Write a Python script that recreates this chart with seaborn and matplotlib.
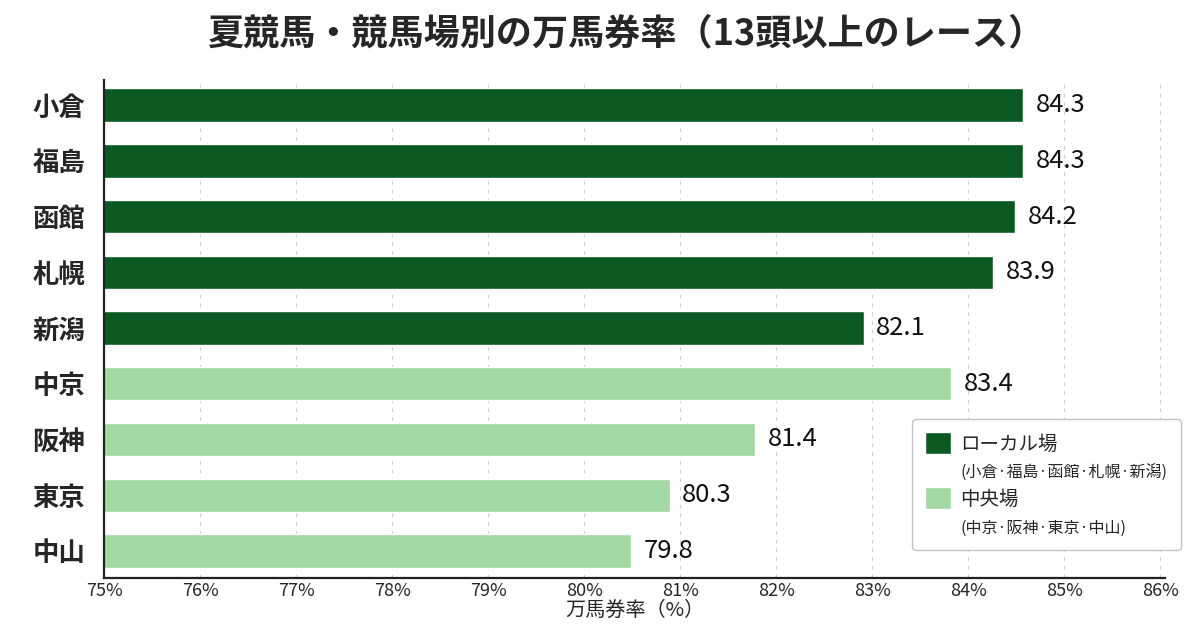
import matplotlib
matplotlib.use("Agg")
import matplotlib.pyplot as plt
import seaborn as sns
import pandas as pd
from matplotlib.patches import Patch

# venues, top to bottom
venues = ["小倉", "福島", "函館", "札幌", "新潟", "中京", "阪神", "東京", "中山"]
# printed value labels
rate_labels = [84.3, 84.3, 84.2, 83.9, 82.1, 83.4, 81.4, 80.3, 79.8]
# bar ends as they sit on the axis in the picture
bar_ends = [84.57, 84.57, 84.49, 84.26, 82.91, 83.82, 81.78, 80.89, 80.49]
groups = ["ローカル場"] * 5 + ["中央場"] * 4
group_names = ["ローカル場", "中央場"]
group_notes = ["(小倉·福島·函館·札幌·新潟)", "(中京·阪神·東京·中山)"]
x_ticks = list(range(75, 87))

DARK = "#0b5a24"
LIGHT = "#a2d8a2"

sns.set_style("white")
plt.rcParams["font.family"] = ["Noto Sans CJK JP", "DejaVu Sans"]

df = pd.DataFrame({"venue": venues, "rate": bar_ends, "group": groups})

fig = plt.figure(figsize=(12, 6.3), dpi=100)
ax = fig.add_axes([0.087, 0.083, 0.884, 0.79])

sns.barplot(data=df, x="rate", y="venue", hue="group", orient="h",
            palette={"ローカル場": DARK, "中央場": LIGHT},
            dodge=False, width=0.6, legend=False, ax=ax, saturation=1)

for cont in ax.containers:
    labs = []
    for bar in cont:
        idx = int(round(bar.get_y() + bar.get_height() / 2))
        labs.append(f"{rate_labels[idx]:.1f}")
    ax.bar_label(cont, labels=labs, padding=9, fontsize=18.5, color="#111111")

ax.set_xlim(75, 86.05)
ax.set_ylim(8.48, -0.45)
ax.set_xticks(x_ticks)
ax.set_xticklabels([f"{t}%" for t in x_ticks], fontsize=13)
ax.tick_params(axis="y", labelsize=19, length=0, pad=14)
ax.tick_params(axis="x", length=0, pad=3)
for lab in ax.get_yticklabels():
    lab.set_fontweight("bold")
ax.set_ylabel("")
ax.set_xlabel("万馬券率（%）", fontsize=14.5, labelpad=0)

ax.grid(axis="x", linestyle=(0, (3, 4)), color="#d0d0d0", linewidth=0.9)
ax.set_axisbelow(True)
for side in ["top", "right"]:
    ax.spines[side].set_visible(False)
for side in ["left", "bottom"]:
    ax.spines[side].set_color("#222222")
    ax.spines[side].set_linewidth(1.6)

fig.suptitle("夏競馬・競馬場別の万馬券率（13頭以上のレース）",
             fontsize=26, fontweight="bold", x=0.522, y=0.975)

# legend: group name with a swatch, then a smaller note line
blank = Patch(facecolor="none", edgecolor="none")
handles = [Patch(facecolor=DARK), blank, Patch(facecolor=LIGHT), blank]
labels = [group_names[0], group_notes[0], group_names[1], group_notes[1]]
leg = ax.legend(handles, labels, loc="lower right", bbox_to_anchor=(1.024, 0.036),
                fontsize=14, frameon=True, fancybox=True, framealpha=1,
                edgecolor="#c4c4c4", handlelength=1.3, handleheight=1.3,
                handletextpad=0.5, labelspacing=0.3, borderpad=0.7)
leg.get_frame().set_linewidth(1.0)
for i, t in enumerate(leg.get_texts()):
    if i % 2 == 1:
        t.set_fontsize(11.5)

fig.savefig("out.png", dpi=100, facecolor="white")
